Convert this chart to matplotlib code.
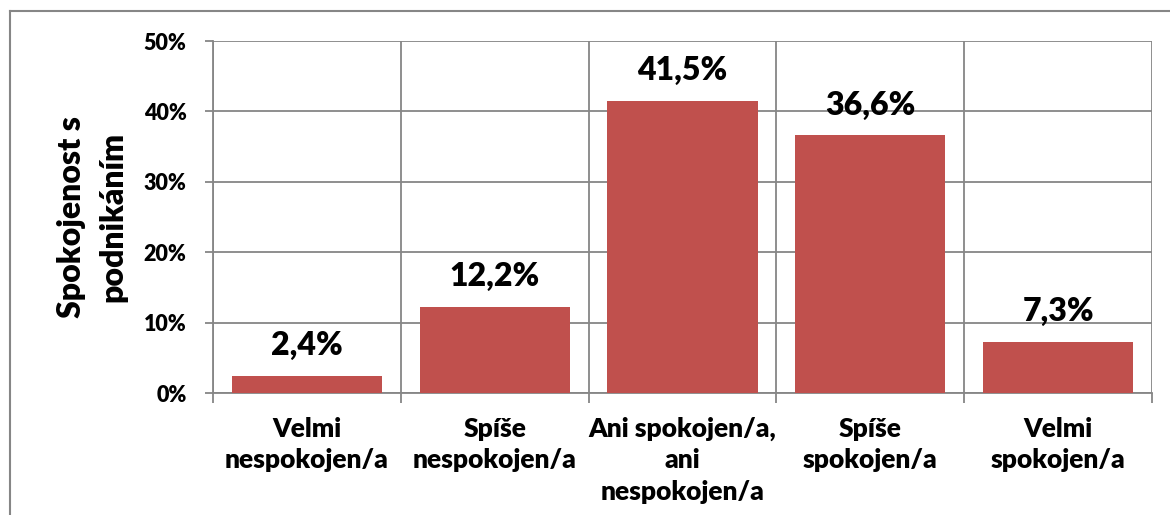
import matplotlib.pyplot as plt
from matplotlib.lines import Line2D
from matplotlib.ticker import FixedLocator, FuncFormatter

# data
categories = ["Velmi\nnespokojen/a", "Spíše\nnespokojen/a", "Ani spokojen/a,\nani\nnespokojen/a",
              "Spíše\nspokojen/a", "Velmi\nspokojen/a"]
values = [2.4, 12.2, 41.5, 36.6, 7.3]
value_labels = ["2,4%", "12,2%", "41,5%", "36,6%", "7,3%"]
y_ticks = [0, 10, 20, 30, 40, 50]
y_title = "Spokojenost s\npodnikáním"

BAR_COLOR = "#C0504D"
GRID_COLOR = "#868686"
FONT = "Lato"
W = 'heavy'

plt.rcParams['font.family'] = [FONT, 'DejaVu Sans']

fig = plt.figure(figsize=(11.7, 5.15), dpi=100)
ax = fig.add_axes([213 / 1170, 1 - 393 / 515, (1152 - 213) / 1170, (393 - 41) / 515])

x = list(range(len(categories)))
ax.bar(x, values, width=0.8, color=BAR_COLOR, zorder=3)

for xi, v, lab in zip(x, values, value_labels):
    ax.annotate(lab, (xi, v), xytext=(0, 15), textcoords='offset points',
                ha='center', va='baseline', fontsize=23, fontweight=W)

ax.set_xlim(-0.5, len(categories) - 0.5)
ax.set_ylim(0, 50)

ax.yaxis.set_major_locator(FixedLocator(y_ticks))
ax.yaxis.set_major_formatter(FuncFormatter(lambda v, p: f"{v:.0f}%"))
ax.tick_params(axis='y', length=6, width=1.3, color=GRID_COLOR, labelsize=15.5, pad=13)
for t in ax.get_yticklabels():
    t.set_fontweight(W)

ax.set_xticks(x)
ax.set_xticklabels(categories, fontsize=19, fontweight=W, linespacing=1.38)
ax.set_xticks([i - 0.5 for i in range(len(categories) + 1)], minor=True)
ax.tick_params(axis='x', which='major', length=0, pad=17)
ax.tick_params(axis='x', which='minor', length=7, width=1.3, color=GRID_COLOR)
for t in ax.get_xticklabels():
    t.set_verticalalignment('top')

ax.grid(True, axis='y', which='major', color=GRID_COLOR, lw=1.3, zorder=0)
ax.grid(True, axis='x', which='minor', color=GRID_COLOR, lw=1.3, zorder=0)
ax.set_axisbelow(True)
for s in ax.spines.values():
    s.set_color(GRID_COLOR)
    s.set_linewidth(1.3)
ax.spines['top'].set_visible(False)
ax.spines['right'].set_visible(False)

fig.text(92 / 1170, 1 - 217 / 515, y_title, rotation=90, ha='center', va='center',
         fontsize=23, fontweight=W, linespacing=1.5, multialignment='center')

# outer chart border (runs off the right and bottom edges)
bx, by = 10 / 1170, 1 - 11 / 515
fig.add_artist(Line2D([bx, 1.0], [by, by], transform=fig.transFigure, color=GRID_COLOR, lw=1.5))
fig.add_artist(Line2D([bx, bx], [by, 0.0], transform=fig.transFigure, color=GRID_COLOR, lw=1.5))

fig.savefig("out.png", dpi=100)
